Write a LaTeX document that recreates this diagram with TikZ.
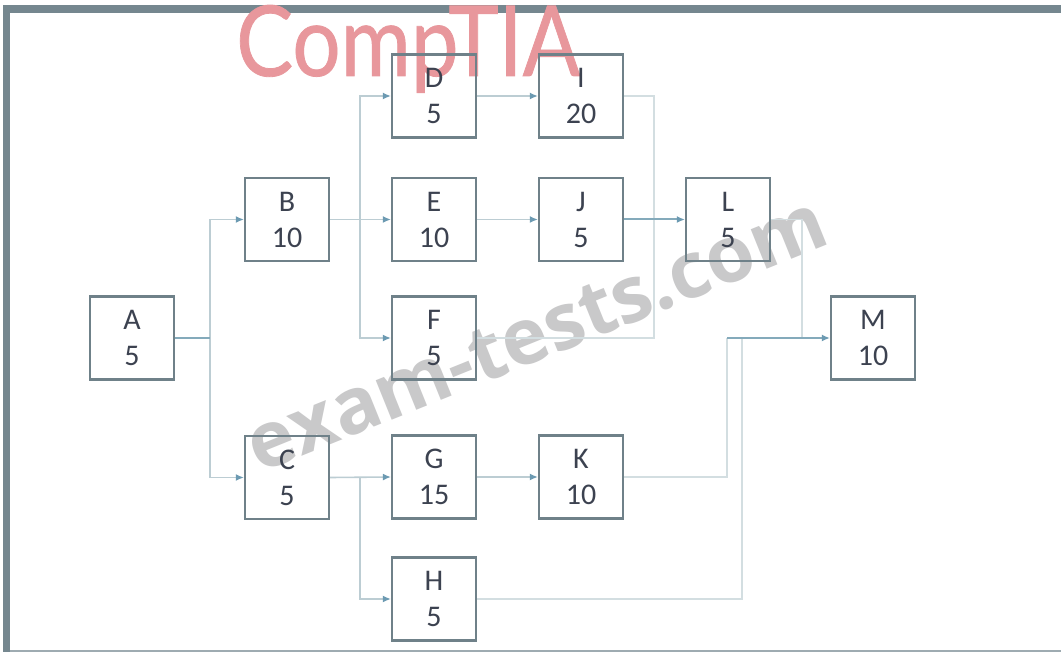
\documentclass[tikz,border=0pt]{standalone}
\usepackage{fontspec}
\setmainfont{Carlito}
\newfontfamily\wmfont{Open Sans}
\newfontfamily\logofont[FakeBold=0.8]{Lato}
\usetikzlibrary{arrows.meta}
\definecolor{frameC}{HTML}{75878F}
\definecolor{boxC}{HTML}{6F8189}
\definecolor{txtC}{HTML}{3C4250}
\definecolor{lineL}{HTML}{D3DEE1}
\definecolor{lineM}{HTML}{BCCDD3}
\definecolor{lineD}{HTML}{84AABB}
\definecolor{tipC}{HTML}{6C9AB2}
\definecolor{logoC}{HTML}{E8979C}
\definecolor{wmC}{HTML}{C9C9CA}
\tikzset{
  x=1pt,y=-1pt,
  tbox/.style={draw=boxC,line width=2.2pt,fill=none,minimum width=84pt,minimum height=83pt,inner sep=0pt,
    align=center,text=txtC,font=\fontsize{30}{36}\selectfont},
  conn/.style={draw=lineL,line width=1.6pt},
  connm/.style={draw=lineM,line width=1.6pt},
  connd/.style={draw=lineD,line width=2pt},
  tip/.style={-{Latex[length=8pt,width=7pt,color=tipC]}},
}
\begin{document}
\begin{tikzpicture}
\useasboundingbox (0,0) rectangle (1061,652);
% frame
\fill[white] (0,0) rectangle (1061,652);
\fill[frameC] (3,5) rectangle (1061,13);
\fill[frameC] (3,5) rectangle (10,652);
\fill[frameC!70!white] (10,650) rectangle (1061,652);
% watermarks
\begin{scope}
\clip (0,5) rectangle (1061,652);
\node[text=logoC,inner sep=0pt,anchor=base west,font=\logofont\fontsize{98}{98}\selectfont,xscale=0.87] (logo) at (236,76) {CompTIA};
\node[text=wmC,inner sep=0pt,anchor=base,rotate=22,font=\wmfont\bfseries\fontsize{78}{78}\selectfont] (wm) at (546,358) {exam-tests.com};
\end{scope}
% nodes
\node[tbox] (A) at (132,338) {A\\5};
\node[tbox] (B) at (287,219.5) {B\\10};
\node[tbox] (C) at (287,477.5) {C\\5};
\node[tbox] (D) at (434,96) {D\\5};
\node[tbox] (E) at (434,219.5) {E\\10};
\node[tbox] (F) at (434,338) {F\\5};
\node[tbox] (G) at (434,477) {G\\15};
\node[tbox] (H) at (434,599) {H\\5};
\node[tbox] (I) at (581,96) {I\\20};
\node[tbox] (J) at (581,219.5) {J\\5};
\node[tbox] (K) at (581,477) {K\\10};
\node[tbox] (L) at (728,219.5) {L\\5};
\node[tbox] (M) at (873,338) {M\\10};
% junctions
\coordinate (jA) at (210,338);
\coordinate (jB) at (360,219.5);
\coordinate (jC) at (360,477);
\coordinate (jL) at (654,219.5);
\coordinate (jLr) at (802,338);
\coordinate (jK) at (727,338);
\coordinate (jH) at (742,338);
% connectors
\draw[connm,tip] (jA) |- (B.west);
\draw[connm,tip] (jA) |- (C.west);
\draw[connd] (A.east) -- (jA);
\draw[connm,tip] (jB) |- (D.west);
\draw[connm,tip] (jB) |- (F.west);
\draw[connm,tip] (B.east) -- (E.west);
\draw[connm,tip] (C.east) -- (G.west);
\draw[connm,tip] (jC) |- (H.west);
\draw[connm,tip] (D.east) -- (I.west);
\draw[connm,tip] (E.east) -- (J.west);
\draw[connm,tip] (G.east) -- (K.west);
\draw[conn] (I.east) -| (jL);
\draw[conn] (F.east) -| (jL);
\draw[connd,tip] (J.east) -- (L.west);
\draw[conn] (L.east) -| (jLr);
\draw[conn] (K.east) -| (jK);
\draw[conn] (H.east) -| (jH);
\draw[connd,tip] (jK) -- (M.west);
\end{tikzpicture}
\end{document}
